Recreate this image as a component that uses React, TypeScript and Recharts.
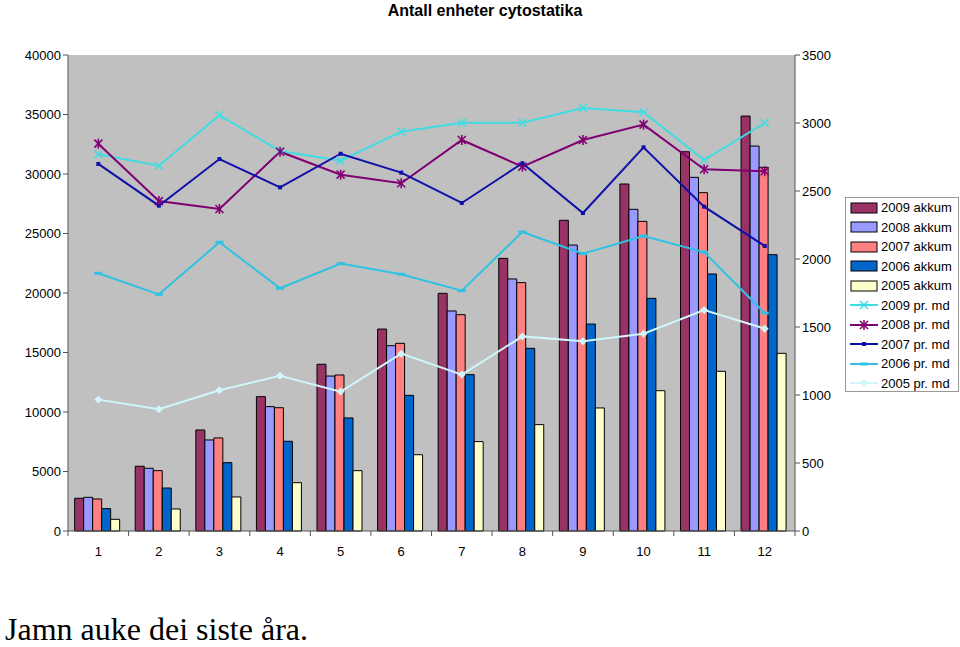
import { ComposedChart, Bar, Line, XAxis, YAxis, CartesianGrid } from 'recharts'

const months = ['1', '2', '3', '4', '5', '6', '7', '8', '9', '10', '11', '12']

// akkumulert (venstre akse)
const akkum2009 = [2750, 5440, 8490, 11290, 14010, 16970, 19970, 22910, 26110, 29160, 31870, 34870]
const akkum2008 = [2830, 5270, 7650, 10450, 13020, 15570, 18490, 21180, 24030, 27030, 29720, 32350]
const akkum2007 = [2690, 5070, 7820, 10360, 13110, 15770, 18180, 20870, 23330, 26020, 28430, 30560]
const akkum2006 = [1880, 3610, 5740, 7540, 9500, 11400, 13140, 15350, 17390, 19550, 21600, 23220]
const akkum2005 = [980, 1850, 2860, 4060, 5070, 6410, 7510, 8940, 10340, 11790, 13420, 14930]

// pr. måned (høyre akse)
const md2009 = [2770, 2686, 3057, 2794, 2723, 2936, 3002, 3002, 3110, 3079, 2728, 3000]
const md2008 = [2848, 2426, 2368, 2789, 2620, 2557, 2875, 2679, 2875, 2988, 2660, 2645]
const md2007 = [2699, 2392, 2735, 2527, 2774, 2635, 2412, 2704, 2338, 2821, 2385, 2096]
const md2006 = [1895, 1740, 2123, 1785, 1966, 1888, 1767, 2199, 2039, 2169, 2051, 1603]
const md2005 = [966, 895, 1035, 1142, 1025, 1304, 1150, 1431, 1395, 1451, 1625, 1488]

const leftTicks = [0, 5000, 10000, 15000, 20000, 25000, 30000, 35000, 40000]
const rightTicks = [0, 500, 1000, 1500, 2000, 2500, 3000, 3500]

const data = months.map((m, i) => ({
  month: m,
  a2009: akkum2009[i],
  a2008: akkum2008[i],
  a2007: akkum2007[i],
  a2006: akkum2006[i],
  a2005: akkum2005[i],
  m2009: md2009[i],
  m2008: md2008[i],
  m2007: md2007[i],
  m2006: md2006[i],
  m2005: md2005[i],
}))

const bars = [
  { key: 'a2009', name: '2009 akkum', color: '#993366' },
  { key: 'a2008', name: '2008 akkum', color: '#9999FF' },
  { key: 'a2007', name: '2007 akkum', color: '#FF8080' },
  { key: 'a2006', name: '2006 akkum', color: '#0066CC' },
  { key: 'a2005', name: '2005 akkum', color: '#FFFFCC' },
]

const CHART_W = 960
const LEFT_W = 68
const RIGHT_SPACE = 165
const PLOT_W = CHART_W - LEFT_W - RIGHT_SPACE
const font = 'Arial, "Liberation Sans", sans-serif'

const CrossDot = (props: any) => {
  const { cx, cy, stroke } = props
  if (cx == null || cy == null) return null
  return (
    <g stroke={stroke} strokeWidth={1.6}>
      <line x1={cx - 4} y1={cy - 4} x2={cx + 4} y2={cy + 4} />
      <line x1={cx - 4} y1={cy + 4} x2={cx + 4} y2={cy - 4} />
    </g>
  )
}

const StarDot = (props: any) => {
  const { cx, cy, stroke } = props
  if (cx == null || cy == null) return null
  return (
    <g stroke={stroke} strokeWidth={1.6}>
      <line x1={cx - 4} y1={cy - 4} x2={cx + 4} y2={cy + 4} />
      <line x1={cx - 4} y1={cy + 4} x2={cx + 4} y2={cy - 4} />
      <line x1={cx} y1={cy - 5} x2={cx} y2={cy + 5} />
    </g>
  )
}

const SquareDot = (props: any) => {
  const { cx, cy, stroke } = props
  if (cx == null || cy == null) return null
  return <rect x={cx - 2} y={cy - 2} width={4} height={4} fill={stroke} />
}

const DashDot = (props: any) => {
  const { cx, cy, stroke } = props
  if (cx == null || cy == null) return null
  return <rect x={cx - 4} y={cy - 1.5} width={8} height={3} fill={stroke} />
}

const DiamondDot = (props: any) => {
  const { cx, cy, stroke } = props
  if (cx == null || cy == null) return null
  return <polygon points={`${cx},${cy - 4} ${cx + 4},${cy} ${cx},${cy + 4} ${cx - 4},${cy}`} fill={stroke} />
}

const lines = [
  { key: 'm2009', name: '2009 pr. md', color: '#3FDCE4', dot: CrossDot },
  { key: 'm2008', name: '2008 pr. md', color: '#800073', dot: StarDot },
  { key: 'm2007', name: '2007 pr. md', color: '#1010A8', dot: SquareDot },
  { key: 'm2006', name: '2006 pr. md', color: '#2FC2E2', dot: DashDot },
  { key: 'm2005', name: '2005 pr. md', color: '#CFF6FA', dot: DiamondDot },
]

const MonthTick = (props: any) => {
  const { x, y, payload } = props
  const half = PLOT_W / months.length / 2
  return (
    <g>
      <line x1={x - half} y1={y} x2={x - half} y2={y + 5} stroke="#555" />
      {payload.value === months[months.length - 1] && (
        <line x1={x + half} y1={y} x2={x + half} y2={y + 5} stroke="#555" />
      )}
      <text x={x} y={y + 25} textAnchor="middle" fontSize={13} fontFamily={font} fill="#000">
        {payload.value}
      </text>
    </g>
  )
}

const LegendBox = () => (
  <div
    style={{
      position: 'absolute',
      left: 845,
      top: 197,
      width: 112,
      height: 193,
      border: '1px solid #999',
      background: '#fff',
      fontFamily: font,
      fontSize: 13,
    }}
  >
    {bars.map((b) => (
      <div key={b.key} style={{ height: 19.5, display: 'flex', alignItems: 'center' }}>
        <svg width={34} height={12}>
          <rect x={5} y={1} width={26} height={10} fill={b.color} stroke="#000" strokeWidth={1} />
        </svg>
        <span style={{ marginLeft: 1 }}>{b.name}</span>
      </div>
    ))}
    {lines.map((l) => {
      const D = l.dot
      return (
        <div key={l.key} style={{ height: 19.5, display: 'flex', alignItems: 'center' }}>
          <svg width={34} height={12}>
            <line x1={4} y1={6} x2={32} y2={6} stroke={l.color} strokeWidth={2} />
            <D cx={18} cy={6} stroke={l.color} />
          </svg>
          <span style={{ marginLeft: 1 }}>{l.name}</span>
        </div>
      )
    })}
  </div>
)

export default function App() {
  return (
    <div style={{ position: 'absolute', left: 0, top: 0, width: 960, height: 647, background: '#fff' }}>
      <div
        style={{
          position: 'absolute',
          top: 2,
          left: 0,
          width: 970,
          textAlign: 'center',
          fontFamily: font,
          fontWeight: 'bold',
          fontSize: 16,
        }}
      >
        Antall enheter cytostatika
      </div>
      <ComposedChart
        width={CHART_W}
        height={570}
        data={data}
        margin={{ top: 55, right: 125, bottom: 9, left: 0 }}
        barGap={0}
        barCategoryGap="11%"
      >
        <CartesianGrid fill="#C0C0C0" horizontal={false} vertical={false} />
        <XAxis
          xAxisId="top"
          dataKey="month"
          orientation="top"
          height={0}
          tick={false}
          tickLine={false}
          axisLine={{ stroke: '#808080' }}
        />
        <XAxis
          dataKey="month"
          height={30}
          tickLine={false}
          tickSize={0}
          tickMargin={0}
          axisLine={{ stroke: '#555' }}
          tick={<MonthTick />}
          interval={0}
        />
        <YAxis
          yAxisId="left"
          width={LEFT_W}
          domain={[0, 40000]}
          ticks={leftTicks}
          interval={0}
          tickSize={5}
          tickLine={{ stroke: '#555' }}
          axisLine={{ stroke: '#555' }}
          tick={{ fill: '#000', fontSize: 13, fontFamily: font }}
        />
        <YAxis
          yAxisId="right"
          orientation="right"
          width={40}
          domain={[0, 3500]}
          ticks={rightTicks}
          interval={0}
          tickSize={5}
          tickLine={{ stroke: '#555' }}
          axisLine={{ stroke: '#555' }}
          tick={{ fill: '#000', fontSize: 13, fontFamily: font, textAnchor: 'start' }}
        />
        {bars.map((b) => (
          <Bar
            key={b.key}
            yAxisId="left"
            dataKey={b.key}
            name={b.name}
            fill={b.color}
            stroke="#000"
            strokeWidth={1}
            isAnimationActive={false}
          />
        ))}
        {lines.map((l) => (
          <Line
            key={l.key}
            yAxisId="right"
            dataKey={l.key}
            name={l.name}
            stroke={l.color}
            strokeWidth={2}
            dot={<l.dot />}
            activeDot={false}
            isAnimationActive={false}
          />
        ))}
      </ComposedChart>
      <LegendBox />
      <div
        style={{
          position: 'absolute',
          left: 5,
          top: 611,
          fontFamily: '"Liberation Serif", "Times New Roman", serif',
          fontSize: 32,
          whiteSpace: 'nowrap',
        }}
      >
        Jamn auke dei siste åra.
      </div>
    </div>
  )
}
